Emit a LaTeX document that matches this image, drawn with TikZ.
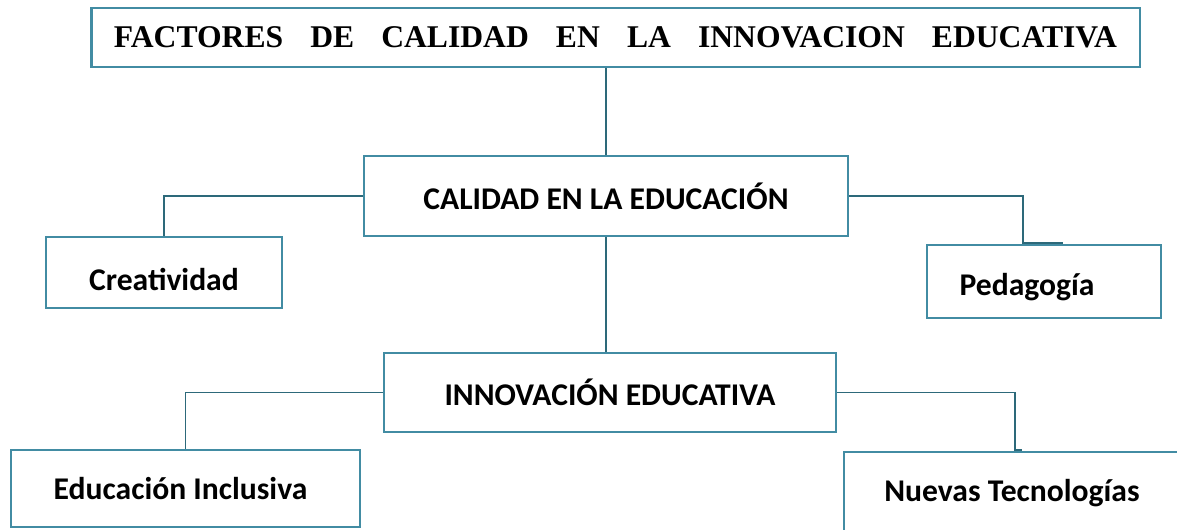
\documentclass[tikz,border=0pt]{standalone}
\usepackage{fontspec}
\setmainfont{Carlito}
\newfontfamily\titlefont{Liberation Serif}
\definecolor{boxteal}{RGB}{66,140,163}
\definecolor{linkteal}{RGB}{45,105,122}
\tikzset{
  box/.style={draw=boxteal, line width=1.6pt, fill=white, inner sep=0pt,
    font=\fontsize{18}{21}\selectfont\bfseries},
  link/.style={draw=linkteal, line width=1.1pt}
}
\begin{document}
\begin{tikzpicture}[x=0.02cm, y=-0.02cm]
        \clip (0,0) rectangle (1177,529);
        \fill[white] (0,0) rectangle (1177,529);

        % Title
        \node[box, minimum width=20.98cm, minimum height=1.18cm,
              font=\titlefont\fontsize{18}{21}\selectfont\bfseries] (title) at (615.5,37.5)
              {\makebox[571pt][s]{FACTORES DE CALIDAD EN LA INNOVACION EDUCATIVA}};

        % Middle row
        \node[box, minimum width=9.68cm, minimum height=1.6cm] (cal) at (606,196) {CALIDAD EN LA EDUCACIÓN};
        \node[box, minimum width=4.72cm, minimum height=1.42cm, text height=20pt, text depth=0pt] (crea) at (164,272.5) {Creatividad};
        \node[box, minimum width=4.68cm, minimum height=1.46cm, text height=20pt, text depth=4pt] (ped) at (1044,281.5) {\hspace*{-0.68cm}Pedagogía};

        % Bottom row
        \node[box, minimum width=9.04cm, minimum height=1.58cm] (inno) at (610,392.5) {INNOVACIÓN EDUCATIVA};
        \node[box, minimum width=6.98cm, minimum height=1.54cm] (inc) at (185.5,488.5) {\hspace*{-0.2cm}Educación Inclusiva};
        \node[box, minimum width=6.72cm, minimum height=1.64cm] (tec) at (1012,493) {Nuevas Tecnologías};

        \coordinate (pedtop) at (1023,243);
        \coordinate (pedstub) at (1063,243);
        \coordinate (tectop) at (1015,450);
        \coordinate (tecstub) at (1022,450);

        \draw[link] (title.south -| cal.north) -- (cal.north);
        \draw[link] (cal.west) -| (crea.north);
        \draw[link] (cal.east) -| (pedtop) -- (pedstub);

        \draw[link] (cal.south) -- (cal.south |- inno.north);
        \draw[link] (inno.west) -| (inc.north);
        \draw[link] (inno.east) -| (tectop) -- (tecstub);
    \end{tikzpicture}
\end{document}
